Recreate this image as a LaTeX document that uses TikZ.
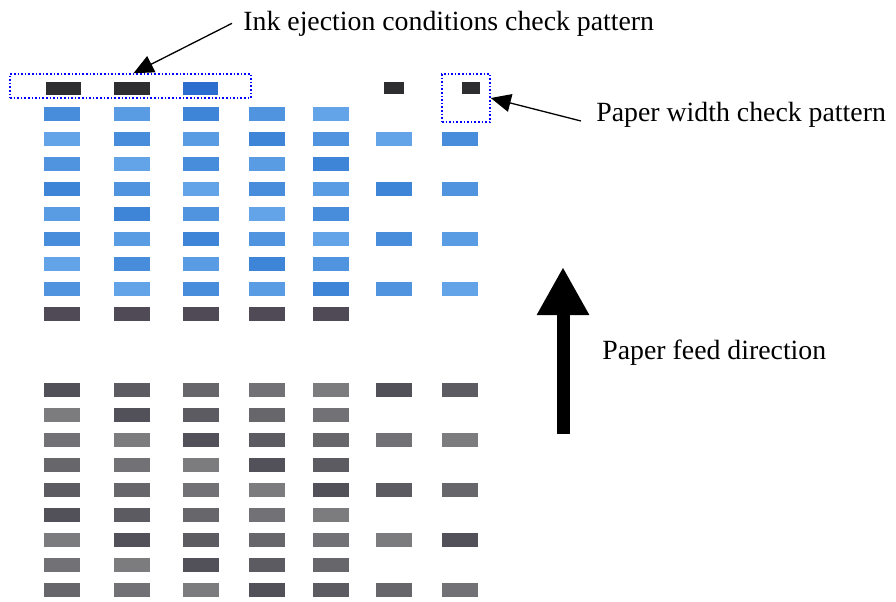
\documentclass[tikz,border=0pt]{standalone}
\usepackage{fontspec}
\setmainfont{Liberation Serif}
\usetikzlibrary{arrows.meta,positioning}

\definecolor{blueDark}{RGB}{60,132,215}
\definecolor{blueLight}{RGB}{102,166,232}
\definecolor{grayDark}{RGB}{80,78,86}
\definecolor{grayLight}{RGB}{128,128,130}
\definecolor{inkDark}{RGB}{46,46,48}
\definecolor{inkBlue}{RGB}{44,110,205}
\definecolor{rowDark}{RGB}{80,74,86}

\begin{document}
\begin{tikzpicture}[
    x=0.5pt, y=-0.5pt,
    caption/.style={font=\fontsize{13.9}{16}\selectfont, inner sep=0pt, anchor=base west},
    checkbox/.style={draw=blue, densely dotted, line width=0.8pt, inner sep=0pt},
    arrow/.style={-{Triangle[length=10pt,width=9pt]}, line width=0.65pt},
    feed/.style={line width=6.5pt, -{Triangle[length=24pt,width=24.5pt]}},
    bluebar/.style={fill=blueDark!#1!blueLight},
    graybar/.style={fill=grayDark!#1!grayLight}
]
    \useasboundingbox (0,0) rectangle (896,601);

    \fill[inkDark] (46,82) rectangle (81,95);
    \fill[inkDark] (114,82) rectangle (150,95);
    \fill[inkBlue] (183,82) rectangle (218,95);
    \fill[inkDark] (384,82) rectangle (404,94);
    \fill[inkDark] (462,82) rectangle (480,94);

    \foreach \xx [count=\c] in {44,114,183,249,313,376,442} {
        \foreach \k in {0,...,7} {
            \pgfmathtruncatemacro\p{mod(\k*37+\c*53,5)*22+8}
            \pgfmathtruncatemacro\show{(\c<6) || isodd(\k)}
            \ifnum\show=1
                \fill[bluebar=\p] (\xx,107+25*\k) rectangle ++(36,14);
            \fi
        }
        \ifnum\c<6
            \fill[rowDark] (\xx,307) rectangle ++(36,14);
        \fi
        \foreach \k in {0,...,8} {
            \pgfmathtruncatemacro\p{mod(\k*41+\c*29,5)*22+8}
            \pgfmathtruncatemacro\show{(\c<6) || iseven(\k)}
            \ifnum\show=1
                \fill[graybar=\p] (\xx,383+25*\k) rectangle ++(36,14);
            \fi
        }
    }

    \node[checkbox, minimum width=120.5pt, minimum height=12pt] (inkbox) at (130.5,86) {};
    \node[checkbox, minimum width=24pt, minimum height=24pt] (widthbox) at (466,98) {};

    \node[caption, inner xsep=5.5pt] (inklabel) at (232,30) {Ink ejection conditions check pattern};
    \node[caption, inner xsep=7.5pt] (widthlabel) at (581,121) {Paper width check pattern};
    \node[caption] (feedlabel) at (602,359) {Paper feed direction};

    \coordinate (feedtail) at (563,434);
    \coordinate (feedtip) at (563,267);

    \draw[arrow] (inklabel.west) -- ([xshift=1.5pt]inkbox.north);
    \draw[arrow] (widthlabel.base west) -- (widthbox.east);
    \draw[feed] (feedtail) -- (feedtip);
\end{tikzpicture}
\end{document}
